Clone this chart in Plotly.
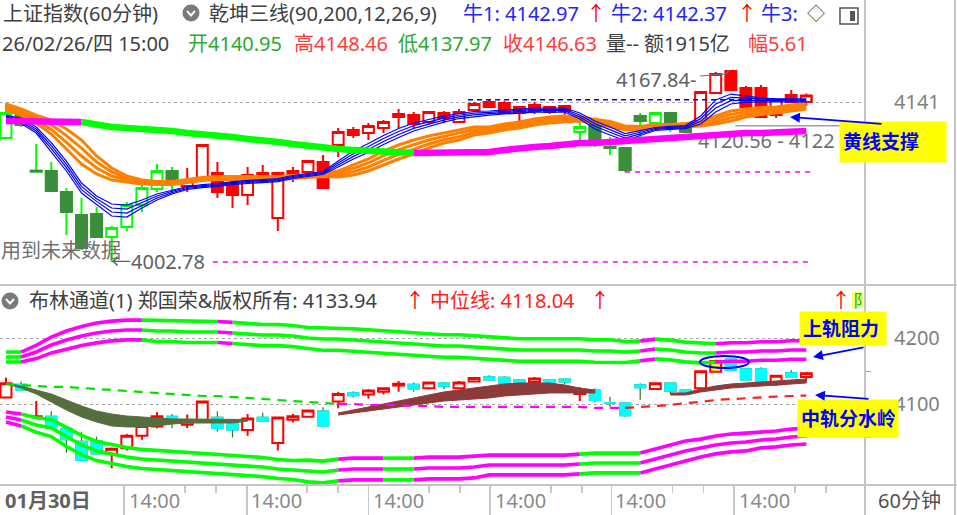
import plotly.graph_objects as go

W, H = 957, 515
FONT = "Noto Sans, Noto Sans CJK SC, sans-serif"


def px(x):
    return x / W


def py(y):
    return 1 - y / H


# ---------------- data ----------------
bar_index = list(range(54))

opens = [4109.9, 4129.8, 4081.0, 4081.4, 4063.2, 4043.4, 4044.2, 4024.4, 4033.0, 4052.0,
         4065.8, 4081.4, 4068.4, 4075.4, 4079.7, 4071.0, 4060.7, 4079.7, 4040.8, 4076.2,
         4080.5, 4089.2, 4103.9, 4116.8, 4114.3, 4118.6, 4128.1, 4129.8, 4123.8, 4131.5,
         4123.8, 4134.1, 4141.05, 4140.2, 4136.7, 4133.3, 4136.7, 4137.6, 4115.1, 4121.2,
         4102.2, 4101.3, 4128.9, 4122.9, 4131.5, 4121.2, 4123.8, 4148.8, 4167.84, 4153.15,
         4153.15, 4129.8, 4147.1, 4140.95]
highs = [4140.2, 4134.1, 4104.7, 4089.2, 4066.7, 4058.1, 4050.3, 4033.9, 4054.6, 4071.0,
         4087.5, 4084.9, 4084.0, 4104.7, 4089.2, 4073.6, 4084.9, 4086.6, 4080.5, 4084.9,
         4090.9, 4095.2, 4118.6, 4119.4, 4122.9, 4125.5, 4135.0, 4132.4, 4133.3, 4133.3,
         4135.0, 4141.05, 4143.6, 4141.9, 4137.6, 4141.05, 4137.6, 4138.45, 4125.5, 4123.8,
         4110.8, 4102.2, 4131.5, 4132.4, 4131.5, 4121.8, 4149.7, 4167.0, 4167.84, 4154.9,
         4155.7, 4142.8, 4151.4, 4148.46]
lows = [4109.0, 4119.4, 4080.5, 4063.2, 4026.1, 4013.1, 4023.8, 4002.78, 4029.5, 4046.0,
        4063.2, 4063.2, 4063.2, 4073.6, 4058.1, 4049.4, 4052.0, 4072.8, 4029.5, 4071.9,
        4080.1, 4066.2, 4093.5, 4109.9, 4108.2, 4114.3, 4118.6, 4118.6, 4122.0, 4122.9,
        4122.9, 4132.4, 4135.8, 4130.7, 4123.8, 4130.7, 4130.7, 4129.8, 4104.7, 4102.2,
        4095.2, 4080.5, 4106.5, 4121.2, 4115.1, 4114.3, 4123.0, 4148.0, 4151.4, 4135.8,
        4127.2, 4127.2, 4140.2, 4137.97]
closes = [4131.5, 4121.2, 4081.6, 4064.1, 4046.0, 4014.9, 4024.4, 4032.1, 4052.0, 4066.7,
          4081.4, 4071.0, 4073.6, 4103.9, 4063.2, 4060.7, 4077.9, 4073.6, 4079.7, 4081.4,
          4090.1, 4066.7, 4115.1, 4112.5, 4120.3, 4123.8, 4130.7, 4122.0, 4132.4, 4127.2,
          4132.4, 4139.3, 4136.7, 4131.5, 4131.5, 4138.45, 4132.4, 4133.3, 4119.4, 4105.6,
          4101.3, 4082.3, 4124.6, 4131.5, 4119.4, 4115.1, 4149.7, 4165.25, 4151.4, 4136.7,
          4128.1, 4142.8, 4141.05, 4146.63]

# candle colouring in the upper panel (乾坤三线) : G=green, R=red, H=hollow, F=filled
top_style = ["GH", "GF", "GF", "GF", "GF", "GF", "GF", "GH", "GH", "GH",
             "GH", "GF", "RH", "RH", "RF", "RF", "RH", "RF", "RH", "RF",
             "RH", "RF", "RH", "RF", "RH", "RH", "RF", "RF", "RH", "RF",
             "RH", "RH", "RF", "RF", "RF", "RF", "RF", "RF", "GH", "GF",
             "GF", "GF", "GF", "GH", "GF", "GF", "RH", "RH", "RF", "RF",
             "RF", "RH", "RF", "RH"]
# candle colouring in the lower panel (布林通道): R=red hollow, C=cyan, Y=yellow
bottom_style = "RCRCCCCRRR" + "RCRRCCRCRR" + "RCRCRRRCRC" + "RRCCCRCCRC" + "CCCRCCRYCC" + "CRCR"

# 乾坤三线 – fast ribbon (blue)
blue_mid = [4128.9, 4124.6, 4116.8, 4102.1, 4085.7, 4066.7, 4056.3, 4047.7, 4046.8, 4052.9,
            4058.9, 4063.3, 4066.7, 4068.4, 4069.3, 4071.0, 4071.9, 4072.8, 4073.6, 4076.2,
            4077.9, 4079.7, 4087.5, 4095.2, 4101.3, 4108.2, 4114.2, 4119.4, 4122.9, 4126.3,
            4128.9, 4130.7, 4131.5, 4132.4, 4133.3, 4134.1, 4134.1, 4134.1, 4128.9, 4121.2,
            4116.0, 4110.8, 4114.2, 4117.7, 4118.6, 4119.4, 4125.5, 4137.6, 4143.6, 4143.6,
            4142.8, 4142.5, 4142.4, 4142.4]
blue_spread = [1.7, 4.3, 5.2, 7.8, 8.6, 8.6, 6.9, 10.4, 10.4, 6.9,
               5.2, 3.5, 2.6, 2.6, 2.6, 2.6, 2.6, 2.6, 2.6, 2.6,
               2.6, 2.6, 5.2, 6.9, 7.8, 7.8, 7.8, 6.9, 6.0, 5.2,
               4.3, 4.3, 3.5, 3.5, 3.5, 3.5, 3.5, 3.5, 5.2, 6.9,
               6.9, 6.0, 4.3, 2.6, 2.6, 2.6, 6.9, 10.4, 8.6, 5.2,
               3.5, 2.6, 2.6, 2.6]
# 乾坤三线 – middle ribbon (orange)
orange_mid = [4136.7, 4132.4, 4126.3, 4119.4, 4109.1, 4097.8, 4086.6, 4078.8, 4074.5, 4071.9,
              4071.0, 4071.0, 4072.8, 4074.5, 4075.4, 4075.4, 4075.4, 4075.4, 4075.4, 4076.2,
              4077.1, 4077.9, 4078.8, 4082.3, 4086.6, 4092.6, 4097.8, 4102.1, 4106.5, 4109.9,
              4112.5, 4116.0, 4116.8, 4119.4, 4121.2, 4123.8, 4125.5, 4126.3, 4126.3, 4124.6,
              4122.0, 4118.6, 4118.6, 4120.3, 4120.3, 4121.2, 4122.0, 4125.5, 4128.9, 4131.5,
              4133.3, 4134.1, 4135.9, 4137.6]
orange_spread = [5.2, 5.2, 6.9, 12.1, 17.3, 20.7, 15.6, 10.4, 5.2, 3.5,
                 2.6, 2.6, 2.6, 2.6, 2.6, 2.6, 2.6, 2.6, 2.6, 2.6,
                 2.6, 2.6, 5.2, 8.6, 10.4, 12.1, 12.1, 12.1, 10.4, 8.6,
                 8.6, 6.9, 5.2, 5.2, 5.2, 5.2, 5.2, 5.2, 3.5, 3.5,
                 4.3, 3.5, 2.6, 2.6, 2.6, 2.6, 3.5, 6.9, 8.6, 6.9,
                 6.0, 5.2, 5.2, 5.2]
# 乾坤三线 – slow line (green falling / magenta rising)
slow_line = [4124.6, 4124.6, 4124.6, 4124.6, 4124.6, 4123.8, 4121.2, 4119.4, 4118.6, 4118.1,
             4117.7, 4116.0, 4114.2, 4113.4, 4111.7, 4110.8, 4109.1, 4108.2, 4106.5, 4104.7,
             4103.0, 4102.1, 4100.4, 4099.6, 4098.7, 4097.8, 4097.8, 4097.0, 4097.0, 4097.0,
             4097.0, 4097.0, 4097.8, 4099.6, 4101.3, 4102.1, 4103.0, 4104.7, 4105.6, 4105.6,
             4106.5, 4107.3, 4109.1, 4109.9, 4109.9, 4110.8, 4111.7, 4112.5, 4113.4, 4114.2,
             4114.2, 4115.1, 4115.9, 4115.9]
slow_trend = "MMMMM" + "GGGGGGGGGGGGGGGGGGGGGG" + "MMMMMMMMMMMMMMMMMMMMMMMMMM"

# 布林通道 – upper / lower band bundles and middle line
upper_mid = [4171.2, 4171.2, 4178.8, 4189.4, 4197.0, 4203.0, 4207.6, 4210.6, 4212.1, 4212.1,
             4210.6, 4210.6, 4209.1, 4209.1, 4209.1, 4207.6, 4206.1, 4204.5, 4204.5, 4203.0,
             4200.0, 4198.5, 4198.5, 4197.0, 4195.5, 4193.9, 4192.4, 4190.9, 4189.4, 4187.9,
             4187.9, 4186.4, 4184.8, 4183.3, 4181.8, 4181.8, 4181.8, 4181.8, 4181.8, 4180.3,
             4180.3, 4178.8, 4180.3, 4183.3, 4181.8, 4178.8, 4177.3, 4177.3, 4178.8, 4178.8,
             4180.3, 4180.3, 4181.8, 4181.8]
upper_spread = [15, 15, 20, 24, 27, 29, 30, 30, 30, 30,
                32, 32, 32, 32, 32, 32, 32, 32, 32, 32,
                32, 34, 34, 34, 34, 34, 34, 34, 34, 34,
                34, 34, 34, 34, 34, 34, 34, 34, 34, 34,
                34, 32, 30, 30, 30, 30, 30, 28, 28, 28,
                28, 28, 28, 28]
upper_trend = "G" + "MMMMMMMM" + "GGGGG" + "M" + "GGGGGGGGGGGGGGGGGGGGGGGGGGG" + "M" + "GGGG" + "MMMMMM"

lower_mid = [4080.3, 4075.8, 4068.2, 4063.6, 4050.0, 4037.9, 4028.8, 4024.3, 4019.7, 4016.7,
             4015.2, 4013.6, 4012.1, 4010.6, 4009.1, 4007.6, 4006.1, 4004.5, 4001.5, 4000.0,
             3998.5, 3997.0, 4000.0, 4001.5, 4001.5, 4001.5, 4001.5, 4001.5, 4003.0, 4003.0,
             4003.0, 4004.5, 4007.6, 4007.6, 4007.6, 4007.6, 4007.6, 4007.6, 4009.1, 4010.6,
             4010.6, 4010.6, 4010.6, 4016.7, 4022.7, 4028.8, 4033.3, 4037.9, 4040.9, 4042.4,
             4045.5, 4047.0, 4050.0, 4051.5]
lower_spread = [15, 18, 22, 26, 29, 29, 29, 29, 29, 29,
                29, 29, 29, 29, 29, 29, 29, 29, 29, 29,
                33, 33, 33, 33, 33, 33, 33, 33, 33, 33,
                33, 33, 30, 30, 30, 30, 30, 30, 30, 30,
                30, 30, 30, 30, 30, 30, 27, 27, 27, 27,
                24, 24, 24, 24]
lower_trend = "M" + "GGGGGGGGGGGGGGGGGGGGG" + "MMM" + "GG" + "MMMMMMMMMMM" + "GGGG" + "MMMMMMMMMMM"

mid_line = [4130.3, 4128.8, 4127.3, 4125.8, 4125.8, 4124.2, 4122.7, 4121.2, 4119.7, 4118.2,
            4116.7, 4115.2, 4113.6, 4112.1, 4112.1, 4110.6, 4109.1, 4107.6, 4106.1, 4104.5,
            4103.0, 4101.5, 4100.0, 4100.0, 4098.5, 4098.5, 4098.5, 4097.0, 4097.0, 4095.5,
            4095.5, 4095.5, 4095.5, 4095.5, 4095.5, 4095.5, 4095.5, 4095.5, 4095.5, 4094.0,
            4094.0, 4094.0, 4095.5, 4097.0, 4098.5, 4101.5, 4103.0, 4106.1, 4107.6, 4109.1,
            4110.6, 4111.3, 4112.1, 4112.8]
mid_trend = "GGGGGGGGGGGGGGGGGGGGGG" + "MMMMMMMMMMMMMMMMMMM" + "RRRRRRRRRRRR"

# filled ribbons of the lower panel
olive_x = list(range(0, 17))
olive_top = [4131.8, 4127.3, 4121.2, 4115.2, 4106.1, 4097.0, 4089.4, 4084.8, 4081.8, 4080.3,
             4078.8, 4077.3, 4077.3, 4077.3, 4077.3, 4077.3, 4076.5]
olive_bot = [4130.3, 4124.2, 4115.2, 4103.0, 4090.9, 4080.3, 4072.7, 4066.7, 4065.2, 4065.2,
             4066.7, 4069.7, 4071.2, 4071.2, 4071.2, 4071.2, 4074.0]
brown_a_x = list(range(22, 40))
brown_a_top = [4086.4, 4090.9, 4095.5, 4100.0, 4104.5, 4109.1, 4113.6, 4118.2, 4121.2, 4124.2,
               4127.3, 4130.3, 4131.8, 4131.8, 4131.8, 4128.8, 4124.2, 4121.2]
brown_a_bot = [4083.3, 4086.4, 4089.4, 4092.4, 4095.5, 4098.5, 4101.5, 4104.5, 4106.1, 4107.6,
               4109.1, 4112.1, 4113.6, 4115.2, 4116.7, 4116.7, 4116.7, 4116.7]
brown_b_x = list(range(44, 54))
brown_b_top = [4116.7, 4116.7, 4122.7, 4127.3, 4130.3, 4131.8, 4133.3, 4134.8, 4136.4, 4137.9]
brown_b_bot = [4113.6, 4113.6, 4118.2, 4121.2, 4124.2, 4125.8, 4127.3, 4128.8, 4130.3, 4131.8]

# horizontal reference levels (value, first bar, last bar)
low_level = (4002.78, 13.7, 53.3)
low2_level = (4080.5, 41.0, 53.3)
bull_level = (4142.97, 30.6, 53.3)
support_level = (4120.56, 48.3, 56.9)

# axes
top_ticks, top_ticktext = [4141], ["4141"]
bot_ticks, bot_ticktext = [4200, 4100], ["4200", "4100"]
bot_minor = [4150, 4050]
x_sep = [7.8, 15.95, 24.0, 32.05, 40.1, 48.2]
x_minor = [11.85, 13.9, 19.95, 22.0, 28.0, 30.05, 36.1, 38.15, 44.15, 46.2, 52.25, 54.3]
x_label_pos = [-0.2, 8.0, 16.1, 24.2, 32.25, 40.2, 48.4]
x_label_text = ["01月30日", "14:00", "14:00", "14:00", "14:00", "14:00", "14:00"]

for arr in (opens, highs, lows, closes, top_style, blue_mid, blue_spread, orange_mid,
            orange_spread, slow_line, upper_mid, upper_spread, lower_mid, lower_spread, mid_line):
    assert len(arr) == 54, len(arr)
assert len(bottom_style) == 54
for s in (slow_trend, upper_trend, lower_trend, mid_trend):
    assert len(s) == 53, len(s)

# ---------------- colours ----------------
RED = "#ff0000"
LIME = "#00ff00"
DKGREEN = "#3b8e3b"
CYAN = "#00ffff"
BLUE = "#0000ff"
ORANGE = "#ff8000"
MAGENTA = "#ff00ff"

fig = go.Figure()


def candles(sel, yaxis, line_color, fill, width=2.0, body_only=False):
    xs = [i for i in bar_index if sel(i)]
    if not xs:
        return
    o = [opens[i] for i in xs]
    c = [closes[i] for i in xs]
    if body_only:
        h = [max(opens[i], closes[i]) for i in xs]
        lo = [min(opens[i], closes[i]) for i in xs]
    else:
        h = [highs[i] for i in xs]
        lo = [lows[i] for i in xs]
    style = dict(line=dict(color=line_color, width=width), fillcolor=fill)
    fig.add_trace(go.Candlestick(x=xs, open=o, high=h, low=lo, close=c, xaxis="x", yaxis=yaxis,
                                 increasing=style, decreasing=style, whiskerwidth=0,
                                 showlegend=False, hoverinfo="skip"))


def runs(trend):
    out, start = [], 0
    for k in range(1, len(trend) + 1):
        if k == len(trend) or trend[k] != trend[start]:
            out.append((trend[start], start, k))
            start = k
    return out


def colored_line(vals, trend, cmap, yaxis, width, dash=None):
    groups = {}
    for col, a, b in runs(trend):
        xx, yy = groups.setdefault(col, ([], []))
        xx.extend(bar_index[a:b + 1] + [None])
        yy.extend(vals[a:b + 1] + [None])
    for col, (xx, yy) in groups.items():
        fig.add_trace(go.Scatter(x=xx, y=yy, mode="lines", xaxis="x", yaxis=yaxis,
                                 line=dict(color=cmap[col], width=width, dash=dash),
                                 hoverinfo="skip", showlegend=False))


def ribbon_lines(mid, spread, fracs):
    return [[m + f * s for m, s in zip(mid, spread)] for f in fracs]


def plain_line(xs, ys, yaxis, color, width, dash=None):
    fig.add_trace(go.Scatter(x=xs, y=ys, mode="lines", xaxis="x", yaxis=yaxis,
                             line=dict(color=color, width=width, dash=dash),
                             hoverinfo="skip", showlegend=False))


def band_fill(xs, top, bot, yaxis, color):
    fig.add_trace(go.Scatter(x=xs + xs[::-1], y=top + bot[::-1], mode="lines", fill="toself",
                             fillcolor=color, line=dict(color=color, width=1), xaxis="x",
                             yaxis=yaxis, hoverinfo="skip", showlegend=False))


# ---------------- upper panel ----------------
fig.add_trace(go.Scatter(x=[45.83], y=[4106.0], mode="text", text=["4120.56 - 4122"],
                         textposition="middle right", xaxis="x", yaxis="y",
                         textfont=dict(family=FONT, size=20, color="#707070"),
                         hoverinfo="skip", showlegend=False))
for line in ribbon_lines(orange_mid, orange_spread, [-0.5, -1 / 6, 1 / 6, 0.5]):
    plain_line(bar_index, line, "y", ORANGE, 3)
for line in ribbon_lines(blue_mid, blue_spread, [-0.5, -1 / 6, 1 / 6, 0.5]):
    plain_line(bar_index, line, "y", BLUE, 1.2)
colored_line(slow_line, slow_trend, {"G": LIME, "M": MAGENTA}, "y", 6.5)

for lvl, color, dash, w in ((low_level, MAGENTA, "5px,5px", 1.6), (low2_level, MAGENTA, "5px,5px", 1.6),
                            (bull_level, BLUE, "5px,4px", 1.4), (support_level, "#a0a0a0", None, 1.6)):
    plain_line([lvl[1], lvl[2]], [lvl[0], lvl[0]], "y", color, w, dash)

candles(lambda i: top_style[i] == "GF", "y", LIME, DKGREEN)
candles(lambda i: top_style[i] == "GF", "y", DKGREEN, DKGREEN, 2.0, body_only=True)
candles(lambda i: top_style[i] == "GH", "y", LIME, "#ffffff")
candles(lambda i: top_style[i] == "RH", "y", RED, "#ffffff")
candles(lambda i: top_style[i] == "RF", "y", RED, RED)

# ---------------- lower panel ----------------
for line in ribbon_lines(upper_mid, upper_spread, [-0.5, 0, 0.5]):
    colored_line(line, upper_trend, {"G": LIME, "M": MAGENTA}, "y2", 3.6)
for line in ribbon_lines(lower_mid, lower_spread, [-0.5, 0, 0.5]):
    colored_line(line, lower_trend, {"G": LIME, "M": MAGENTA}, "y2", 3.6)
band_fill(olive_x, olive_top, olive_bot, "y2", "#566e3e")
band_fill(brown_a_x, brown_a_top, brown_a_bot, "y2", "#8c3a3a")
band_fill(brown_b_x, brown_b_top, brown_b_bot, "y2", "#8c3a3a")
colored_line(mid_line, mid_trend, {"G": "#00e000", "M": MAGENTA, "R": "#ff2020"}, "y2", 2.2,
             dash="9px,7px")

candles(lambda i: bottom_style[i] == "C", "y2", "#2f7a2f", CYAN, 1.2)
candles(lambda i: bottom_style[i] == "C", "y2", CYAN, CYAN, 1.2, body_only=True)
candles(lambda i: bottom_style[i] == "R", "y2", RED, "#ffffff")
candles(lambda i: bottom_style[i] == "Y", "y2", RED, "#ffff00")

# ---------------- layout ----------------
axis_font = dict(family=FONT, size=20, color="#808080")
fig.update_layout(
    width=W, height=H, margin=dict(l=0, r=0, t=0, b=0),
    paper_bgcolor="white", plot_bgcolor="white", showlegend=False,
    boxgap=0.15, boxgroupgap=0.15, boxmode="overlay",
    font=dict(family=FONT),
    xaxis=dict(domain=[0, 865 / W], range=[-0.397, 56.887], anchor="y2",
               rangeslider=dict(visible=False), showgrid=False, zeroline=False, showline=False,
               tickmode="array", tickvals=x_sep, ticks="outside", ticklen=30,
               tickcolor="#c8c8c8", tickwidth=1.5, showticklabels=False,
               minor=dict(tickmode="array", tickvals=x_minor, ticks="outside", ticklen=7,
                          tickcolor="#c8c8c8", tickwidth=1.5, showgrid=False)),
    yaxis=dict(domain=[1 - 283 / H, 1 - 58 / H], range=[3984.6, 4179.07], side="right",
               anchor="x", tickmode="array", tickvals=top_ticks, ticktext=top_ticktext,
               showgrid=True, gridcolor="#a8a8a8", griddash="dot", gridwidth=1,
               zeroline=False, showline=False, ticks="", tickfont=axis_font,
               ticklabelstandoff=28),
    yaxis2=dict(domain=[1 - 485 / H, 1 - 285 / H], range=[3977.27, 4280.30], side="right",
                anchor="x", tickmode="array", tickvals=bot_ticks, ticktext=bot_ticktext,
                showgrid=True, gridcolor="#a8a8a8", griddash="dot", gridwidth=1,
                zeroline=False, showline=False, ticks="", tickfont=axis_font,
                ticklabelstandoff=28,
                minor=dict(tickmode="array", tickvals=bot_minor, ticks="outside", ticklen=5,
                           tickcolor="#a0a0a0", showgrid=False)),
)

shapes = []
grey = "#c4c4c4"
for x0, y0, x1, y1 in ((865, 0, 865, 515), (955, 0, 955, 515), (0, 285, 957, 285),
                       (0, 485, 957, 485)):
    shapes.append(dict(type="line", xref="paper", yref="paper", x0=px(x0), y0=py(y0),
                       x1=px(x1), y1=py(y1), line=dict(color=grey, width=2)))
# header icons
for cx, cy in ((191, 13), (10, 301)):
    shapes.append(dict(type="circle", xref="paper", yref="paper", x0=px(cx - 8.5), x1=px(cx + 8.5),
                       y0=py(cy + 8.5), y1=py(cy - 8.5), fillcolor="#7a7a7a",
                       line=dict(width=0)))
    shapes.append(dict(type="path", xref="paper", yref="paper",
                       path=f"M {px(cx - 4)} {py(cy - 2)} L {px(cx)} {py(cy + 2.5)} L {px(cx + 4)} {py(cy - 2)}",
                       line=dict(color="white", width=2)))
shapes.append(dict(type="rect", xref="paper", yref="paper", x0=px(840), x1=px(858), y0=py(24),
                   y1=py(8), line=dict(color="#555", width=1.5)))
shapes.append(dict(type="rect", xref="paper", yref="paper", x0=px(850), x1=px(855), y0=py(21),
                   y1=py(11), fillcolor="#555", line=dict(width=0)))
# 4167.84 pointer
shapes.append(dict(type="path", xref="paper", yref="paper",
                   path=f"M {px(700)} {py(76)} L {px(726)} {py(74)} L {px(729)} {py(70)}",
                   line=dict(color="#707070", width=1.2)))
# ellipse highlight
shapes.append(dict(type="circle", xref="paper", yref="paper", x0=px(700), x1=px(749),
                   y0=py(368), y1=py(356), line=dict(color=BLUE, width=2)))
shapes.append(dict(type="rect", xref="paper", yref="paper", x0=px(852), x1=px(863), y0=py(308),
                   y1=py(292), fillcolor="#f6ff7a", line=dict(width=0)))
fig.update_layout(shapes=shapes)

ann = []


def text(x, y, s, color="#404040", size=20, anchor="left", bg=None, **kw):
    d = dict(xref="paper", yref="paper", x=px(x), y=py(y), text=s, showarrow=False,
             xanchor=anchor, yanchor="middle", font=dict(family=FONT, size=size, color=color))
    if bg:
        d["bgcolor"] = bg
    d.update(kw)
    ann.append(d)


HDR = "#404040"
HGREEN = "#2ea82e"
HRED = "#ff3c3c"
HBLUE = "#2323ff"
# header line 1
text(1, 13, "上证指数(60分钟)", HDR)
text(207, 13, "乾坤三线(90,200,12,26,9)", HDR)
text(461, 13, "牛1: 4142.97", HBLUE)
text(584, 13, "↑", RED)
text(609, 13, "牛2: 4142.37", HBLUE)
text(735, 13, "↑", RED)
text(759, 13, "牛3:", HBLUE)
text(805, 13, "◇", "#505050", 18)
# header line 2
text(0, 44, "26/02/26/四 15:00", HDR)
text(186, 44, "开4140.95", HGREEN)
text(292, 44, "高4148.46", HRED)
text(396, 44, "低4137.97", HGREEN)
text(501, 44, "收4146.63", HRED)
text(604, 44, "量-- 额1915亿", HDR)
text(746, 44, "幅5.61", HRED)
# lower header
text(27, 300, "布林通道(1) 郑国荣&版权所有: 4133.94", HDR)
text(403, 300, "↑", RED)
text(428, 300, "中位线: 4118.04", "#ff2020")
text(588, 300, "↑", RED)
text(829, 300, "↑", RED)
text(851, 300, "阝", "#10c010", 17)
# price notes
text(614, 80, "4167.84-", "#606060", 20)
text(-1, 250, "用到未来数据", "#707070", 20)
text(109, 261, "←4002.78", "#606060", 20)
# x labels
for pos, lab in zip(x_label_pos, x_label_text):
    first = lab == x_label_text[0]
    ann.append(dict(xref="x", yref="paper", x=pos, y=py(500), text=f"<b>{lab}</b>" if first else lab,
                    showarrow=False, xanchor="left", yanchor="middle",
                    font=dict(family=FONT, size=20, color="#606060" if first else "#8a8a8a")))
text(876, 500, "60分钟", "#505050", 20)
# yellow call-outs
for x, y, w, h, s in ((839, 142, 100, 34, "黄线支撑"), (799, 328.5, 80, 27, "上轨阻力"),
                      (797, 418.5, 94, 31, "中轨分水岭")):
    ann.append(dict(xref="paper", yref="paper", x=px(x), y=py(y), text=f"<b>{s}</b>",
                    showarrow=False, xanchor="left", yanchor="middle", width=w, height=h,
                    align="left", valign="middle", bgcolor="#ffff00", borderpad=3,
                    font=dict(family=FONT, size=19, color=BLUE)))
# arrows
for hx, hy, tx, ty in ((790, 117, 883, 124), (813, 357, 865, 347), (815, 395, 870, 399)):
    ann.append(dict(xref="paper", yref="paper", x=px(hx), y=py(hy), ax=tx - hx, ay=ty - hy,
                    text="", showarrow=True, arrowhead=2, arrowsize=1.1, arrowwidth=1.8,
                    arrowcolor=BLUE))
fig.update_layout(annotations=ann)

fig.write_html("out.html", config={"displayModeBar": False, "staticPlot": True},
               post_script="document.documentElement.style.margin='0';"
                           "document.body.style.margin='0';document.body.style.padding='0';"
                           "document.body.style.overflow='hidden';"
                           "document.documentElement.style.overflow='hidden';")
